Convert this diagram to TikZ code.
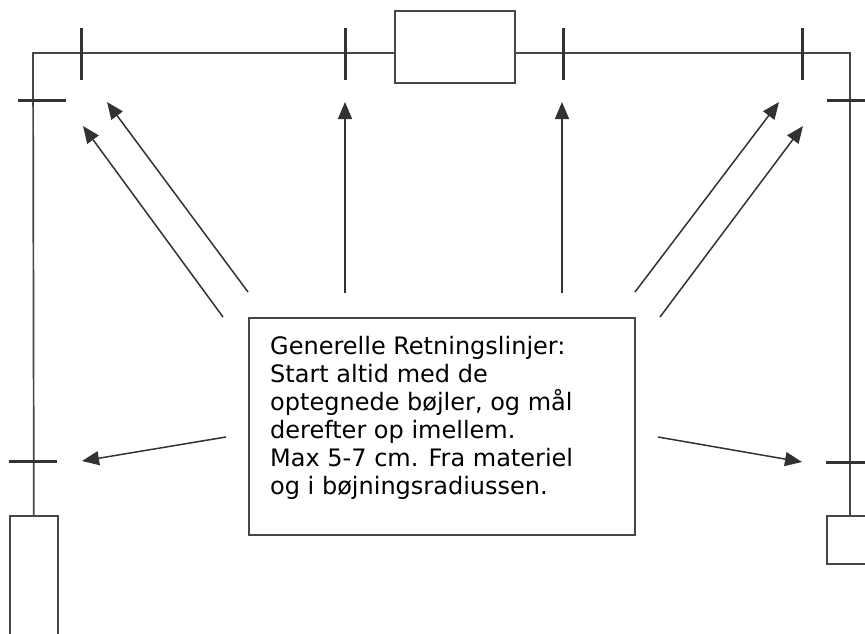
\documentclass[tikz,border=0pt]{standalone}
\usepackage{fontspec}
\newfontfamily\notefont{DejaVu Sans}
\usepackage{xcolor}
\definecolor{ink}{RGB}{50,50,50}
\definecolor{wirecol}{RGB}{70,70,70}
\usepackage{tikz}
\usetikzlibrary{arrows.meta}

\begin{document}
\begin{tikzpicture}[x=1pt, y=-1pt,
    wire/.style={draw=wirecol, line width=1.7pt},
    part/.style={wire, rectangle, inner sep=0pt, anchor=north west},
    tick/.style={draw=ink, line width=3pt},
    pointer/.style={draw=ink, line width=1.5pt, -{Triangle[length=17pt, width=14pt]}},
    notebox/.style={part, minimum width=386pt, minimum height=217pt},
    notetext/.style={anchor=north west, inner sep=0pt, align=left, text=black,
        font=\notefont\fontsize{24}{28}\selectfont},
]
\clip (0,0) rectangle (865,633);

% boxes on the line
\node[part, minimum width=120pt, minimum height=72pt] (topbox) at (394,10) {};
\node[part, minimum width=48pt, minimum height=140pt] (leftbox) at (9,515) {};
\node[part, minimum width=50pt, minimum height=48pt] (rightbox) at (826,515) {};

% corners of the frame
\coordinate (tl) at (33,53);
\coordinate (tr) at (850,53);

\draw[wire] (leftbox.north) -- (tl) -- (topbox.west |- tl);
\draw[wire] (topbox.east |- tl) -- (tr) -- (tr |- rightbox.north);

% the marks
\foreach \x in {81,345,563,802}
    \draw[tick] (\x,28) -- (\x,80);
\draw[tick] (18,100) -- (66,100);
\draw[tick] (9,461) -- (57,461);
\draw[tick] (827,100) -- (875,100);
\draw[tick] (826,462) -- (875,462);

% note
\node[notebox] (note) at (248,317) {};
\node[notetext] (notetext) at ([shift={(22,19)}]note.north west)
    {Generelle Retningslinjer:\\
     Start altid med de\\
     optegnede bøjler, og mål\\
     derefter op imellem.\\
     Max 5-7 cm. Fra materiel\\
     og i bøjningsradiussen.};

% pointers
\coordinate (ulo_s) at (223,317);
\coordinate (ulo_e) at (83,126);
\coordinate (uli_s) at (248,292);
\coordinate (uli_e) at (107,102);
\coordinate (ucl_s) at (345,293);
\coordinate (ucl_e) at (345,102);
\coordinate (ucr_s) at (562,293);
\coordinate (ucr_e) at (562,102);
\coordinate (uri_s) at (635,292);
\coordinate (uri_e) at (779,102);
\coordinate (uro_s) at (660,317);
\coordinate (uro_e) at (803,126);
\coordinate (ml_s) at (226,437);
\coordinate (ml_e) at (82,461);
\coordinate (mr_s) at (658,437);
\coordinate (mr_e) at (802,462);

\draw[pointer] (ulo_s) -- (ulo_e);
\draw[pointer] (uli_s) -- (uli_e);
\draw[pointer] (ucl_s) -- (ucl_e);
\draw[pointer] (ucr_s) -- (ucr_e);
\draw[pointer] (uri_s) -- (uri_e);
\draw[pointer] (uro_s) -- (uro_e);
\draw[pointer] (ml_s) -- (ml_e);
\draw[pointer] (mr_s) -- (mr_e);

\end{tikzpicture}
\end{document}
